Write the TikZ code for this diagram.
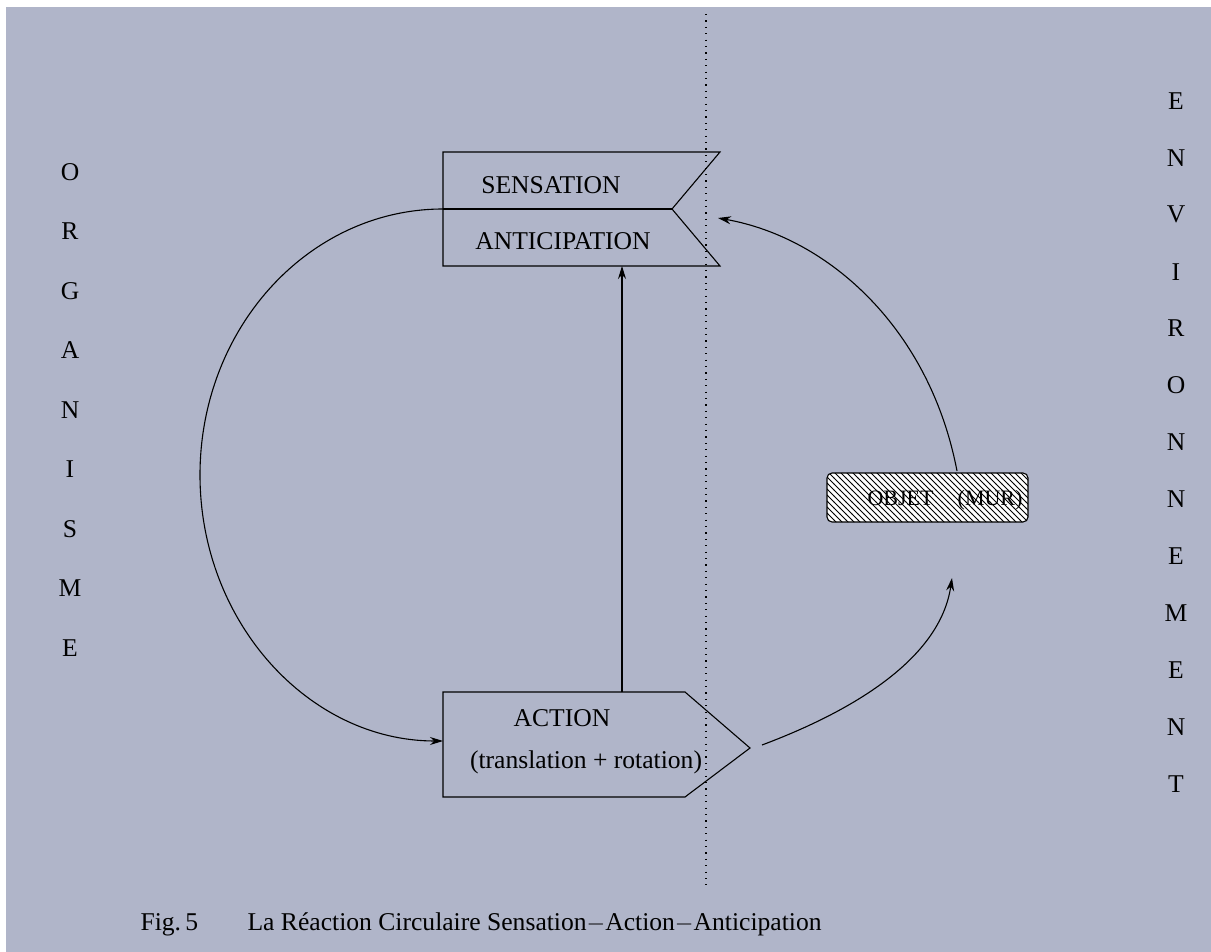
\documentclass[tikz,border=0pt]{standalone}
\usepackage{fontspec}
\setmainfont{Liberation Serif}
\usetikzlibrary{arrows.meta,patterns}
\definecolor{fond}{RGB}{176,181,201}
\tikzset{
  %Define standard arrow tip
  >={Stealth[length=6.5pt,width=4pt]},
  %Define style for texts
  etiq/.style={
    font=\fontsize{12.8}{15}\selectfont,
    inner sep=0pt,
    anchor=base},
  lettre/.style={
    font=\fontsize{12.8}{15}\selectfont,
    inner sep=0pt},
  %Define style for the wall
  mur/.style={
    rectangle,
    rounded corners=2.5pt,
    draw=black,
    fill=white,
    minimum width=100.5pt,
    minimum height=24.5pt,
    postaction={pattern=north west lines}},
  % Define arrow style
  fleche/.style={
    ->,
    line width=0.55pt}
}

\begin{document}
\begin{tikzpicture}[x=0.5pt,y=-0.5pt,line width=0.55pt]
  \fill[white] (0,0) rectangle (1211,952);
  \fill[fond] (6,7) rectangle (1211,952);
  \useasboundingbox (0,0) rectangle (1211,952);

  % frontiere organisme / environnement
  \coordinate (frontH) at (706,14);
  \coordinate (frontB) at (706,885);
  \draw[dash pattern=on 0.6pt off 2.6pt] (frontH) -- (frontB);

  % sensation / anticipation
  \coordinate (sensHG) at (443,152);
  \coordinate (sensHD) at (720,152);
  \coordinate (sensCr) at (672,209);
  \coordinate (sensBD) at (720,266);
  \coordinate (sensBG) at (443,266);
  \coordinate (sensG) at (443,209);
  \coordinate (anticB) at (622,266);
  \draw (sensHG) -- (sensHD) -- (sensCr) -- (sensBD) -- (sensBG) -- cycle;
  \draw (sensG) -- (sensCr);
  \node[etiq] (sens) at (551,194) {SENSATION};
  \node[etiq] (antic) at (563,250) {ANTICIPATION};

  % action
  \coordinate (actHG) at (443,692);
  \coordinate (actHD) at (685,692);
  \coordinate (actPt) at (750,748);
  \coordinate (actBD) at (685,797);
  \coordinate (actBG) at (443,797);
  \coordinate (actG) at (443,741);
  \coordinate (actH) at (622,692);
  \draw (actHG) -- (actHD) -- (actPt) -- (actBD) -- (actBG) -- cycle;
  \node[etiq] (action) at (562,726) {ACTION};
  \node[etiq] (transl) at (586,768) {(translation + rotation)};

  % objet
  \node[mur] (objet) at (927.5,497.5) {};
  \node[etiq,font=\fontsize{11}{13}\selectfont] (objtxt) at (945,505)
    {OBJET\hspace{1.1em}(MUR)};
  \coordinate (objH) at (957,471);
  \coordinate (objB) at (952,578);
  \coordinate (actD) at (762,745);
  \coordinate (sensD) at (718,218);

  % boucle
  \draw[fleche] (sensG) .. controls (308.8,209) and (200,328) .. (200,475)
                        .. controls (200,622) and (308.8,741) .. (actG);
  \draw[fleche] (actH) -- (anticB);
  \draw[fleche] (actD) .. controls (850,712) and (940,660) .. (objB);
  \draw[fleche] (objH) .. controls (930,330) and (830,238) .. (sensD);

  % organisme
  \foreach \l [count=\i from 0] in {O,R,G,A,N,I,S,M,E}
    \node[lettre] (org\i) at (70,172+59.5*\i) {\l};

  % environnement
  \foreach \l [count=\i from 0] in {E,N,V,I,R,O,N,N,E,M,E,N,T}
    \node[lettre] (env\i) at (1176,101+56.9*\i) {\l};

  % legende
  \node[etiq,anchor=base west] (fig) at (140,930) {Fig.\,5};
  \node[etiq,anchor=base west] (titre) at (247,930)
    {La Réaction Circulaire Sensation$-$Action$-$Anticipation};
\end{tikzpicture}
\end{document}
